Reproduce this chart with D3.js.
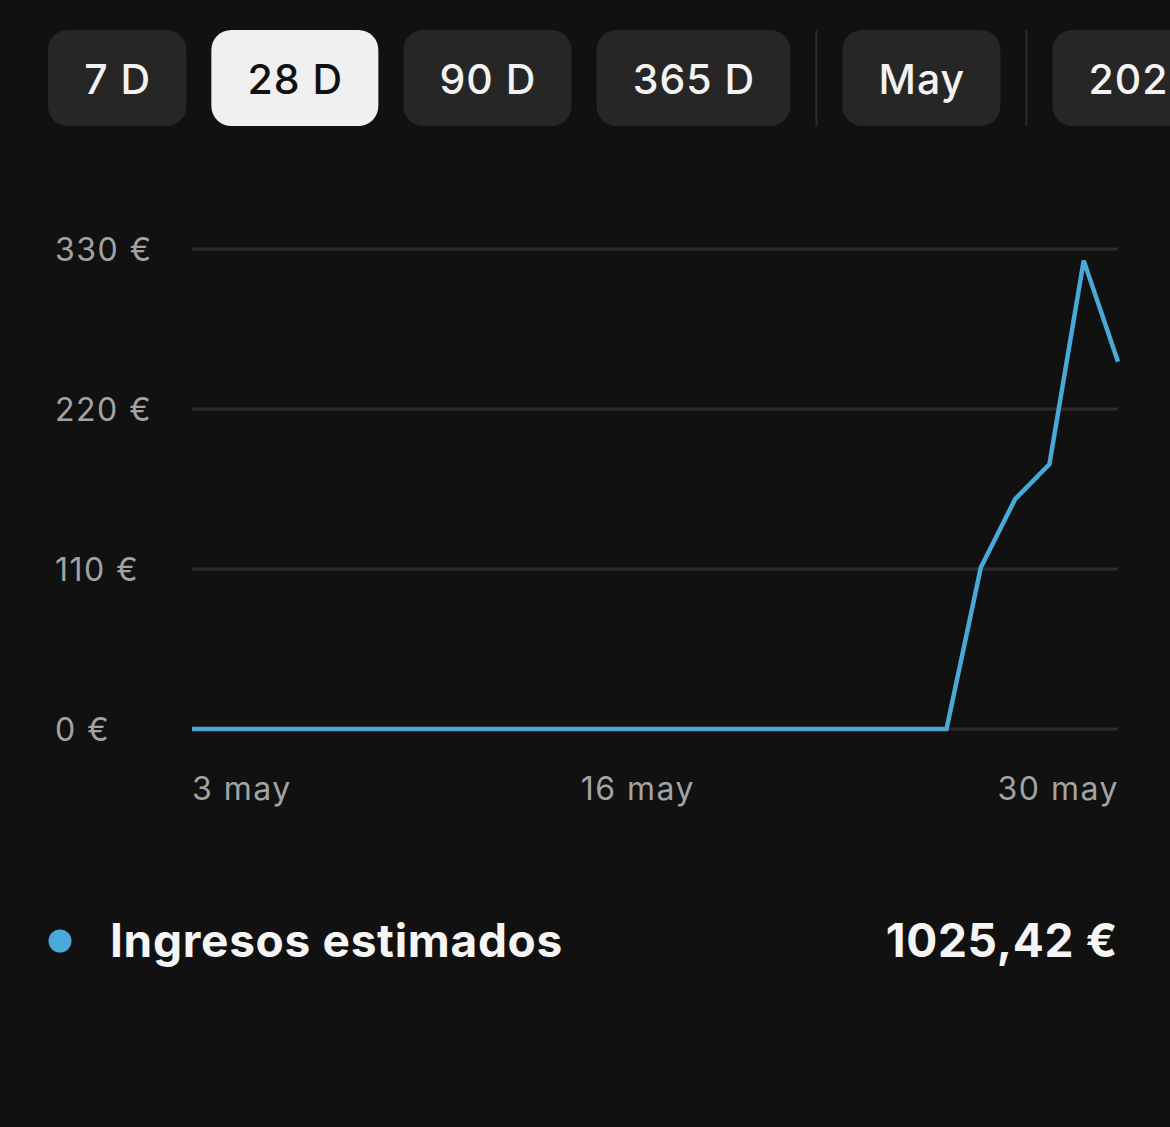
<!DOCTYPE html>
<html>
<head>
<meta charset="utf-8">
<script src="https://cdn.jsdelivr.net/npm/d3@7/dist/d3.min.js"></script>
<style>
  html, body { margin: 0; padding: 0; background: #111111; }
  svg { display: block; }
  text { font-family: Inter, "Noto Sans", sans-serif; }
</style>
</head>
<body>
<svg id="chart" width="1170" height="1127"></svg>
<script>
// ---- data ----
const rangeButtons = ["7 D", "28 D", "90 D", "365 D", "May", "2020"];
const selectedButton = "28 D";
const separatorsAfter = ["365 D", "May"];

const days = ["3 may","4 may","5 may","6 may","7 may","8 may","9 may","10 may","11 may","12 may",
  "13 may","14 may","15 may","16 may","17 may","18 may","19 may","20 may","21 may","22 may",
  "23 may","24 may","25 may","26 may","27 may","28 may","29 may","30 may"];
const revenue = [0,0,0,0,0,0,0,0,0,0,0,0,0,0,0,0,0,0,0,0,0,0,0,111,158,182,322,252.42];
const yTicks = [0, 110, 220, 330];
const xTickLabels = ["3 may", "16 may", "30 may"];
const seriesName = "Ingresos estimados";
const seriesTotal = "1025,42 €";

// ---- drawing ----
const svg = d3.select("#chart");
svg.append("rect").attr("width", 1170).attr("height", 1127).attr("fill", "#111111");

// buttons
const btnG = svg.append("g");
let bx = 48;
const padX = 36.2, gap = 25, sepGap = 26;
rangeButtons.forEach((label) => {
  const sel = label === selectedButton;
  const g = btnG.append("g");
  const t = g.append("text")
    .attr("y", 79)
    .attr("dominant-baseline", "central")
    .attr("font-size", 41)
    .attr("font-weight", 500)
    .attr("letter-spacing", 1)
    .attr("fill", sel ? "#111111" : "#f2f2f2")
    .text(label);
  const tw = t.node().getComputedTextLength() - 1;
  const w = tw + padX * 2;
  g.insert("rect", "text")
    .attr("x", bx).attr("y", 30).attr("width", w).attr("height", 96)
    .attr("rx", 20).attr("fill", sel ? "#f0f0f0" : "#262626");
  t.attr("x", bx + padX);
  bx += w;
  if (separatorsAfter.includes(label)) {
    btnG.append("line")
      .attr("x1", bx + sepGap).attr("x2", bx + sepGap)
      .attr("y1", 30).attr("y2", 126)
      .attr("stroke", "#2c2c2c").attr("stroke-width", 2);
    bx += sepGap * 2;
  } else {
    bx += gap;
  }
});

// scales
const x = d3.scaleLinear().domain([0, days.length - 1]).range([192, 1118]);
const y = d3.scaleLinear().domain([0, 330]).range([729, 249]);

// grid
svg.append("g").selectAll("line").data(yTicks).join("line")
  .attr("x1", 192).attr("x2", 1118)
  .attr("y1", d => y(d)).attr("y2", d => y(d))
  .attr("stroke", "#2b2b2b").attr("stroke-width", 3);

// y labels
svg.append("g").selectAll("text").data(yTicks).join("text")
  .attr("x", 55).attr("y", d => y(d))
  .attr("dominant-baseline", "central")
  .attr("font-size", 32)
  .attr("letter-spacing", 1.5)
  .attr("fill", "#a3a3a3")
  .text(d => d + " €");

// x labels
svg.append("g").selectAll("text").data(xTickLabels).join("text")
  .attr("x", (d, i) => x(days.indexOf(d)) + (i === xTickLabels.length - 1 ? 1 : 0))
  .attr("y", 800)
  .attr("text-anchor", (d, i) => i === 0 ? "start" : (i === xTickLabels.length - 1 ? "end" : "middle"))
  .attr("font-size", 32)
  .attr("letter-spacing", 1.5)
  .attr("fill", "#a3a3a3")
  .text(d => d);

// line
const line = d3.line().x((d, i) => x(i)).y(d => y(d));
svg.append("path").datum(revenue)
  .attr("d", line)
  .attr("fill", "none")
  .attr("stroke", "#4aa9d8")
  .attr("stroke-width", 4.5)
  .attr("stroke-linejoin", "miter");

// legend
svg.append("circle").attr("cx", 60).attr("cy", 941).attr("r", 11.5).attr("fill", "#4aa9d8");
svg.append("text").attr("x", 110).attr("y", 957)
  .attr("font-size", 46).attr("font-weight", 700).attr("fill", "#f5f5f5")
  .attr("letter-spacing", 0.7)
  .text(seriesName);
svg.append("text").attr("x", 1118).attr("y", 957)
  .attr("text-anchor", "end")
  .attr("font-size", 46).attr("font-weight", 700).attr("fill", "#f5f5f5")
  .attr("letter-spacing", 0.7)
  .text(seriesTotal);
</script>
</body>
</html>
